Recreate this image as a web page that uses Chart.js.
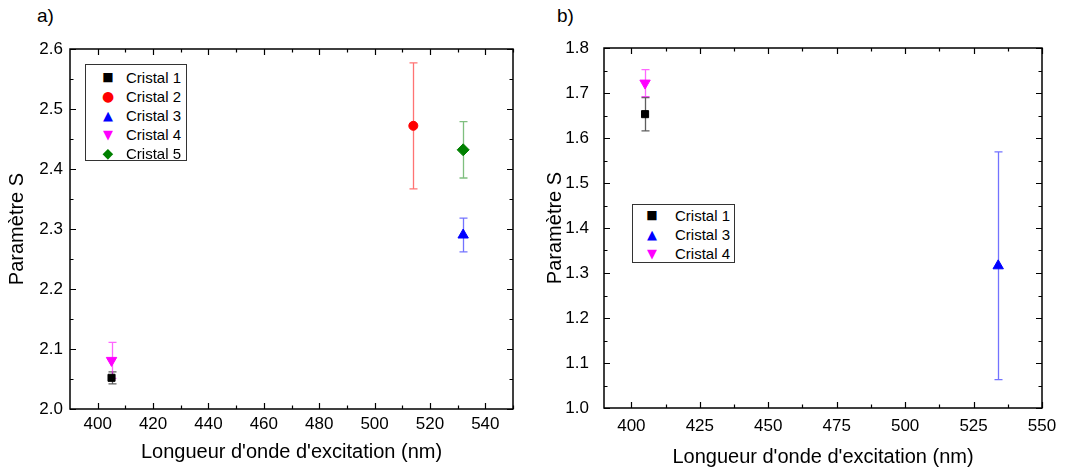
<!DOCTYPE html>
<html>
<head>
<meta charset="utf-8">
<script src="https://cdn.jsdelivr.net/npm/chart.js@4.4.1/dist/chart.umd.min.js"></script>
<style>
  body { margin: 0; background: #fff; font-family: "Liberation Sans", Arial, sans-serif; }
  #wrap { position: relative; width: 1070px; height: 470px; overflow: hidden; }
  canvas { position: absolute; top: 0; }
  .panel { position: absolute; font-size: 19px; color: #000; }
  .legend { position: absolute; border: 1px solid #333; background: #fff; font-size: 15px; box-sizing: border-box; }
  .legend .row { position: relative; height: 19px; line-height: 19px; white-space: nowrap; }
  .legend .sym { position: absolute; width: 20px; text-align: center; font-family: "DejaVu Sans"; }
  .legend .txt { position: absolute; }
</style>
</head>
<body>
<div id="wrap">
  <div class="panel" style="left:37px;top:5px">a)</div>
  <div class="panel" style="left:557px;top:5px">b)</div>
  <canvas id="chartA" width="535" height="470" style="left:0"></canvas>
  <canvas id="chartB" width="535" height="470" style="left:535px"></canvas>
  <div class="legend" id="legA" style="left:85px;top:64px;width:102px;height:97px;padding-top:3px"></div>
  <div class="legend" id="legB" style="left:632px;top:204px;width:103px;height:59px;padding-top:1px"></div>
</div>
<script>
// panel a
const labelsA = ["Cristal 1", "Cristal 2", "Cristal 3", "Cristal 4", "Cristal 5"];
const xA = [405, 514, 532, 405, 532];
const yA = [2.052, 2.472, 2.29, 2.081, 2.432];
const errA = [0.01, 0.105, 0.028, 0.03, 0.047];
const xTicksA = [400, 420, 440, 460, 480, 500, 520, 540];
const yTicksA = [2.0, 2.1, 2.2, 2.3, 2.4, 2.5, 2.6];

// panel b
const labelsB = ["Cristal 1", "Cristal 3", "Cristal 4"];
const xB = [405, 534, 405];
const yB = [1.653, 1.316, 1.722];
const errB = [0.037, 0.253, 0.03];
const xTicksB = [400, 425, 450, 475, 500, 525, 550];
const yTicksB = [1.0, 1.1, 1.2, 1.3, 1.4, 1.5, 1.6, 1.7, 1.8];

// look of each crystal
const styles = {
  "Cristal 1": { color: "#000000", bar: "rgba(40,40,40,0.75)", shape: "rect", radius: 5, rot: 0, glyph: "\u25A0", gsize: 12 },
  "Cristal 2": { color: "#ff0000", bar: "rgba(255,0,0,0.55)", shape: "circle", radius: 4.5, rot: 0, glyph: "\u25CF", gsize: 14 },
  "Cristal 3": { color: "#0000ff", bar: "rgba(0,0,255,0.55)", shape: "triangle", radius: 6, rot: 0, glyph: "\u25B2", gsize: 13 },
  "Cristal 4": { color: "#ff00ff", bar: "rgba(255,0,255,0.6)", shape: "triangle", radius: 6, rot: 180, glyph: "\u25BC", gsize: 13 },
  "Cristal 5": { color: "#008000", bar: "rgba(0,128,0,0.5)", shape: "rectRot", radius: 6, rot: 0, glyph: "\u25C6", gsize: 14 },
};

function makeDatasets(labels, xs, ys, errs) {
  return labels.map((lab, i) => {
    const s = styles[lab];
    return {
      label: lab,
      data: [{ x: xs[i], y: ys[i] }],
      err: errs[i],
      errColor: s.bar,
      pointStyle: s.shape,
      rotation: s.rot,
      pointRadius: s.radius,
      pointHoverRadius: s.radius,
      backgroundColor: s.color,
      borderColor: s.color,
      borderWidth: 1,
    };
  });
}

const errorBars = {
  id: "errorBars",
  beforeDatasetsDraw(chart) {
    const { ctx, scales: { x, y } } = chart;
    ctx.save();
    ctx.lineWidth = 1.3;
    chart.data.datasets.forEach(ds => {
      ds.data.forEach(p => {
        const px = Math.round(x.getPixelForValue(p.x)) + 0.5;
        const top = y.getPixelForValue(p.y + ds.err);
        const bot = y.getPixelForValue(p.y - ds.err);
        ctx.strokeStyle = ds.errColor;
        ctx.beginPath();
        ctx.moveTo(px, top); ctx.lineTo(px, bot);
        ctx.moveTo(px - 4, top); ctx.lineTo(px + 4, top);
        ctx.moveTo(px - 4, bot); ctx.lineTo(px + 4, bot);
        ctx.stroke();
      });
    });
    ctx.restore();
  }
};

// frame with inward ticks on all four sides
const frameTicks = {
  id: "frameTicks",
  afterDraw(chart, args, opts) {
    const { ctx, chartArea: { left, right, top, bottom }, scales: { x, y } } = chart;
    ctx.save();
    ctx.strokeStyle = "#000";
    ctx.lineWidth = 1.5;
    ctx.strokeRect(left, top, right - left, bottom - top);
    ctx.lineWidth = 1.2;
    ctx.beginPath();
    const xt = (v, len) => {
      const px = Math.round(x.getPixelForValue(v)) + 0.5;
      ctx.moveTo(px, bottom); ctx.lineTo(px, bottom - len);
      ctx.moveTo(px, top); ctx.lineTo(px, top + len);
    };
    const yt = (v, len) => {
      const py = Math.round(y.getPixelForValue(v)) + 0.5;
      ctx.moveTo(left, py); ctx.lineTo(left + len, py);
      ctx.moveTo(right, py); ctx.lineTo(right - len, py);
    };
    const mids = arr => arr.slice(1).map((v, i) => (v + arr[i]) / 2);
    opts.xMajor.forEach(v => xt(v, 6));
    mids(opts.xMajor).concat(opts.xExtra).forEach(v => xt(v, 3.5));
    opts.yMajor.forEach(v => yt(v, 6));
    mids(opts.yMajor).forEach(v => yt(v, 3.5));
    ctx.stroke();
    ctx.restore();
  }
};

function makeConfig(datasets, p) {
  const tickFont = { family: "Liberation Sans", size: 17 };
  const titleFont = { family: "Liberation Sans", size: 20 };
  return {
    type: "scatter",
    data: { datasets: datasets },
    plugins: [errorBars, frameTicks],
    options: {
      responsive: false,
      animation: false,
      layout: { padding: { left: 0, top: p.top, right: p.right, bottom: 0 } },
      plugins: {
        legend: { display: false },
        tooltip: { enabled: false },
        frameTicks: { xMajor: p.xTicks, xExtra: p.xExtra, yMajor: p.yTicks },
      },
      scales: {
        x: {
          min: p.xMin, max: p.xMax,
          afterBuildTicks: s => { s.ticks = p.xTicks.map(v => ({ value: v })); },
          afterFit: s => { s.height = p.xHeight; s.paddingLeft = 0; s.paddingRight = 0; },
          grid: { display: false, drawTicks: false, tickLength: 0 },
          border: { display: false },
          ticks: { font: tickFont, color: "#000", padding: p.xPad, maxRotation: 0 },
          title: { display: true, text: "Longueur d'onde d'excitation (nm)", font: titleFont, color: "#000", padding: { top: 0, bottom: p.xTitlePad } },
        },
        y: {
          min: p.yMin, max: p.yMax,
          afterBuildTicks: s => { s.ticks = p.yTicks.map(v => ({ value: v })); },
          afterFit: s => { s.width = p.yWidth; s.paddingTop = 0; s.paddingBottom = 0; },
          grid: { display: false, drawTicks: false, tickLength: 0 },
          border: { display: false },
          ticks: { font: tickFont, color: "#000", padding: p.yPad, callback: v => v.toFixed(1) },
          title: { display: true, text: "Paramètre S", font: titleFont, color: "#000", padding: { top: p.yTitlePad, bottom: 0 } },
        },
      },
    },
  };
}

new Chart(document.getElementById("chartA"), makeConfig(makeDatasets(labelsA, xA, yA, errA), {
  xMin: 390, xMax: 550, yMin: 2.0, yMax: 2.6, xTicks: xTicksA, yTicks: yTicksA, xExtra: [550],
  top: 49, right: 22, xHeight: 61, yWidth: 70, xPad: 5, yPad: 7, xTitlePad: 6, yTitlePad: 5,
}));

new Chart(document.getElementById("chartB"), makeConfig(makeDatasets(labelsB, xB, yB, errB), {
  xMin: 390, xMax: 550, yMin: 1.0, yMax: 1.8, xTicks: xTicksB, yTicks: yTicksB, xExtra: [],
  top: 48, right: 28, xHeight: 62, yWidth: 69, xPad: 8, yPad: 15, xTitlePad: 1, yTitlePad: 8,
}));

function fillLegend(id, labels, symLeft, txtLeft) {
  const box = document.getElementById(id);
  labels.forEach(lab => {
    const s = styles[lab];
    const row = document.createElement("div");
    row.className = "row";
    const sym = document.createElement("span");
    sym.className = "sym";
    sym.style.left = (symLeft - 10) + "px";
    sym.style.color = s.color;
    sym.style.fontSize = s.gsize + "px";
    sym.textContent = s.glyph;
    const txt = document.createElement("span");
    txt.className = "txt";
    txt.style.left = txtLeft + "px";
    txt.textContent = lab;
    row.appendChild(sym);
    row.appendChild(txt);
    box.appendChild(row);
  });
}
fillLegend("legA", labelsA, 22, 40);
fillLegend("legB", labelsB, 19, 42);
</script>
</body>
</html>
